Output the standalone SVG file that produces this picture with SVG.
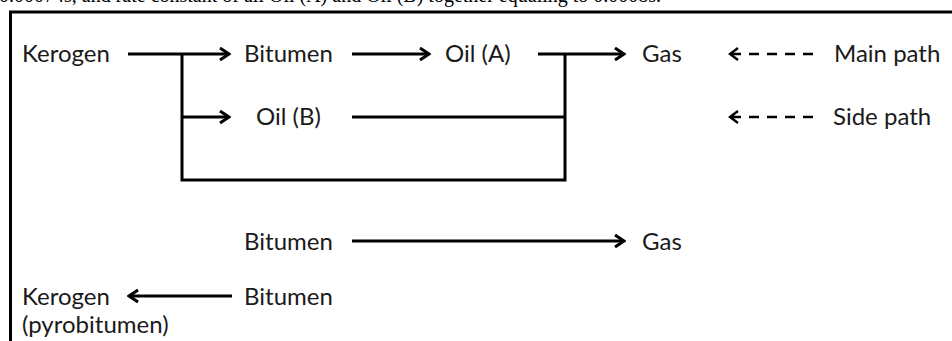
<svg xmlns="http://www.w3.org/2000/svg" width="952" height="341" viewBox="0 0 952 341">
<defs>
<style>
.t{font-family:Lato,"Open Sans","Liberation Sans",sans-serif;font-size:24px;fill:#1a1a1a}
.cap{font-family:"Liberation Serif","Times New Roman",serif;font-size:20px;fill:#000}
.ln{stroke:#000;stroke-width:3;fill:none}
.ar{stroke:#000;stroke-width:3;fill:none;marker-end:url(#ah)}
.ds{stroke:#000;stroke-width:2.4;fill:none}
</style>
<marker id="ah" viewBox="-12 -8 14 16" markerWidth="14" markerHeight="16" refX="0" refY="0" orient="auto" markerUnits="userSpaceOnUse">
<path d="M-9,-6 L0,0 L-9,6" stroke="#000" stroke-width="3" fill="none" stroke-linejoin="miter"/>
</marker>
</defs>
<rect width="952" height="341" fill="#fff"/>
<text class="cap" x="-1" y="2">0.00074s, and rate constant of all Oil (A) and Oil (B) together equaling to 0.0008s.</text>
<path class="ln" d="M10.5,341 L10.5,12 L952,12"/>
<g id="kerogen"><text class="t" x="22" y="62">Kerogen</text></g>
<g id="bitumen"><text class="t" x="244" y="62">Bitumen</text></g>
<g id="oilA"><text class="t" x="445" y="62">Oil (A)</text></g>
<g id="gas"><text class="t" x="642" y="62">Gas</text></g>
<g id="mainpath"><text class="t" x="834" y="62">Main path</text></g>
<g id="oilB"><text class="t" x="256" y="125">Oil (B)</text></g>
<g id="sidepath"><text class="t" x="833" y="125">Side path</text></g>
<g id="bitumen2"><text class="t" x="244" y="250">Bitumen</text></g>
<g id="gas2"><text class="t" x="642" y="250">Gas</text></g>
<g id="kerogen2"><text class="t" x="22" y="305">Kerogen</text><text class="t" x="22" y="333">(pyrobitumen)</text></g>
<g id="bitumen3"><text class="t" x="244" y="305">Bitumen</text></g>
<g id="connectors">
<path class="ar" d="M128,54 L229,54"/>
<path class="ln" d="M182,54 L182,180 L565,180 L565,54"/>
<path class="ar" d="M182,117 L229,117"/>
<path class="ar" d="M352,54 L429,54"/>
<path class="ar" d="M538,54 L624,54"/>
<path class="ln" d="M352,117 L565,117"/>
<path class="ar" d="M352,241 L624,241"/>
<path class="ar" d="M232,296 L129,296"/>
<path class="ds" d="M738,48 L730,54 L738,60 M731,54 L741,54 M749,54 L759,54 M767,54 L777,54 M785,54 L795,54 M803,54 L813,54"/>
<path class="ds" d="M738,111 L730,117 L738,123 M731,117 L741,117 M749,117 L759,117 M767,117 L777,117 M785,117 L795,117 M803,117 L813,117"/>
</g>
</svg>
